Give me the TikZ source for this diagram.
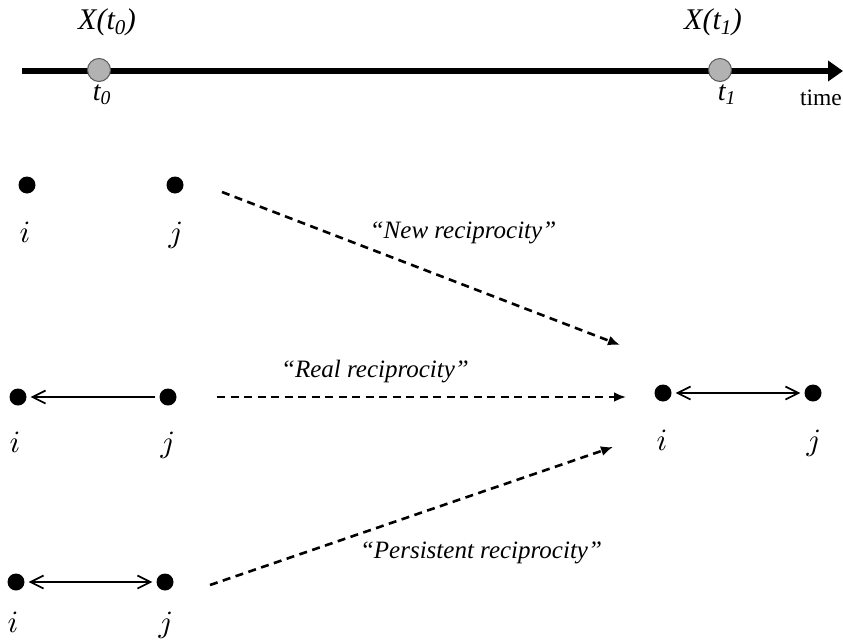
\documentclass[tikz,border=0pt]{standalone}
\usepackage{fontspec}
\setmainfont{Liberation Serif}
\usetikzlibrary{arrows, arrows.meta}
\tikzset{vertex/.style = {shape = circle, fill = black, inner sep = 0pt, minimum size = 17pt}}
\tikzset{moment/.style = {shape = circle, draw = gray!70!black, fill = gray!60, line width = 1pt, inner sep = 0pt, minimum size = 23pt}}
\tikzset{edge/.style = {line width = 1.7pt, shorten < = 4pt, shorten > = 4pt, > = {Straight Barb[length = 13pt, width = 13pt]}}}
\tikzset{move/.style = {line width = 2.6pt, dash pattern = on 8pt off 5.5pt, -{Latex[length = 12pt, width = 10pt]}}}
\tikzset{timeline/.style = {line width = 6.5pt, -{Triangle[length = 15pt, width = 20pt]}}}
\tikzset{letter/.style = {anchor = base, inner sep = 0pt, scale = 3.1}}
\tikzset{kind/.style = {anchor = base, font = \fontsize{25}{28}\selectfont\itshape}}
\tikzset{stamp/.style = {anchor = base, font = \fontsize{30}{32}\selectfont\itshape}}

\begin{document}
\begin{tikzpicture}[x = 1pt, y = -1pt]
			\useasboundingbox (0, 0) rectangle (843, 640);

			% time axis
			\coordinate (start) at (22, 71);
			\coordinate (end) at (843, 71);
			\draw[timeline] (start) -- (end);
			\node[moment] (m0) at (99, 70) {};
			\node[moment] (m1) at (720, 70) {};
			\node[stamp] (x0) at (107, 29) {X(t\textsubscript{0})};
			\node[stamp] (x1) at (713, 29) {X(t\textsubscript{1})};
			\node[stamp, font = \fontsize{28}{30}\selectfont\itshape] (s0) at (102, 100) {t\textsubscript{0}};
			\node[stamp, font = \fontsize{28}{30}\selectfont\itshape] (s1) at (727, 100) {t\textsubscript{1}};
			\node[anchor = base, font = \fontsize{23.5}{26}\selectfont] (time) at (821, 105) {time};

			% pairs at t0
			\node[vertex] (a1) at (27, 185) {};
			\node[vertex] (b1) at (175, 185) {};
			\node[vertex] (a2) at (18, 397) {};
			\node[vertex] (b2) at (168, 397) {};
			\node[vertex] (a3) at (16, 582) {};
			\node[vertex] (b3) at (165, 582) {};
			\node[letter] (ia1) at (25, 242) {$i$};
			\node[letter] (jb1) at (176, 242) {$j$};
			\node[letter] (ia2) at (15, 452) {$i$};
			\node[letter] (jb2) at (168, 452) {$j$};
			\node[letter] (ia3) at (13, 632) {$i$};
			\node[letter] (jb3) at (166, 632) {$j$};

			\draw[edge, ->] (b2) to (a2);
			\draw[edge, <->] (a3) to (b3);

			% pair at t1
			\node[vertex] (a4) at (663, 393) {};
			\node[vertex] (b4) at (813, 393) {};
			\node[letter] (ia4) at (662, 450) {$i$};
			\node[letter] (jb4) at (814, 450) {$j$};
			\draw[edge, <->] (a4) to (b4);

			% transitions
			\coordinate (new0) at (222, 192);
			\coordinate (new1) at (620, 345);
			\coordinate (real0) at (217, 397);
			\coordinate (real1) at (626, 397);
			\coordinate (pers0) at (210, 585);
			\coordinate (pers1) at (613, 447);
			\draw[move] (new0) -- (new1);
			\draw[move] (real0) -- (real1);
			\draw[move] (pers0) -- (pers1);
			\node[kind] (lnew) at (463, 238) {“New reciprocity”};
			\node[kind] (lreal) at (375, 377) {“Real reciprocity”};
			\node[kind] (lpers) at (481, 558) {“Persistent reciprocity”};
		\end{tikzpicture}
\end{document}
